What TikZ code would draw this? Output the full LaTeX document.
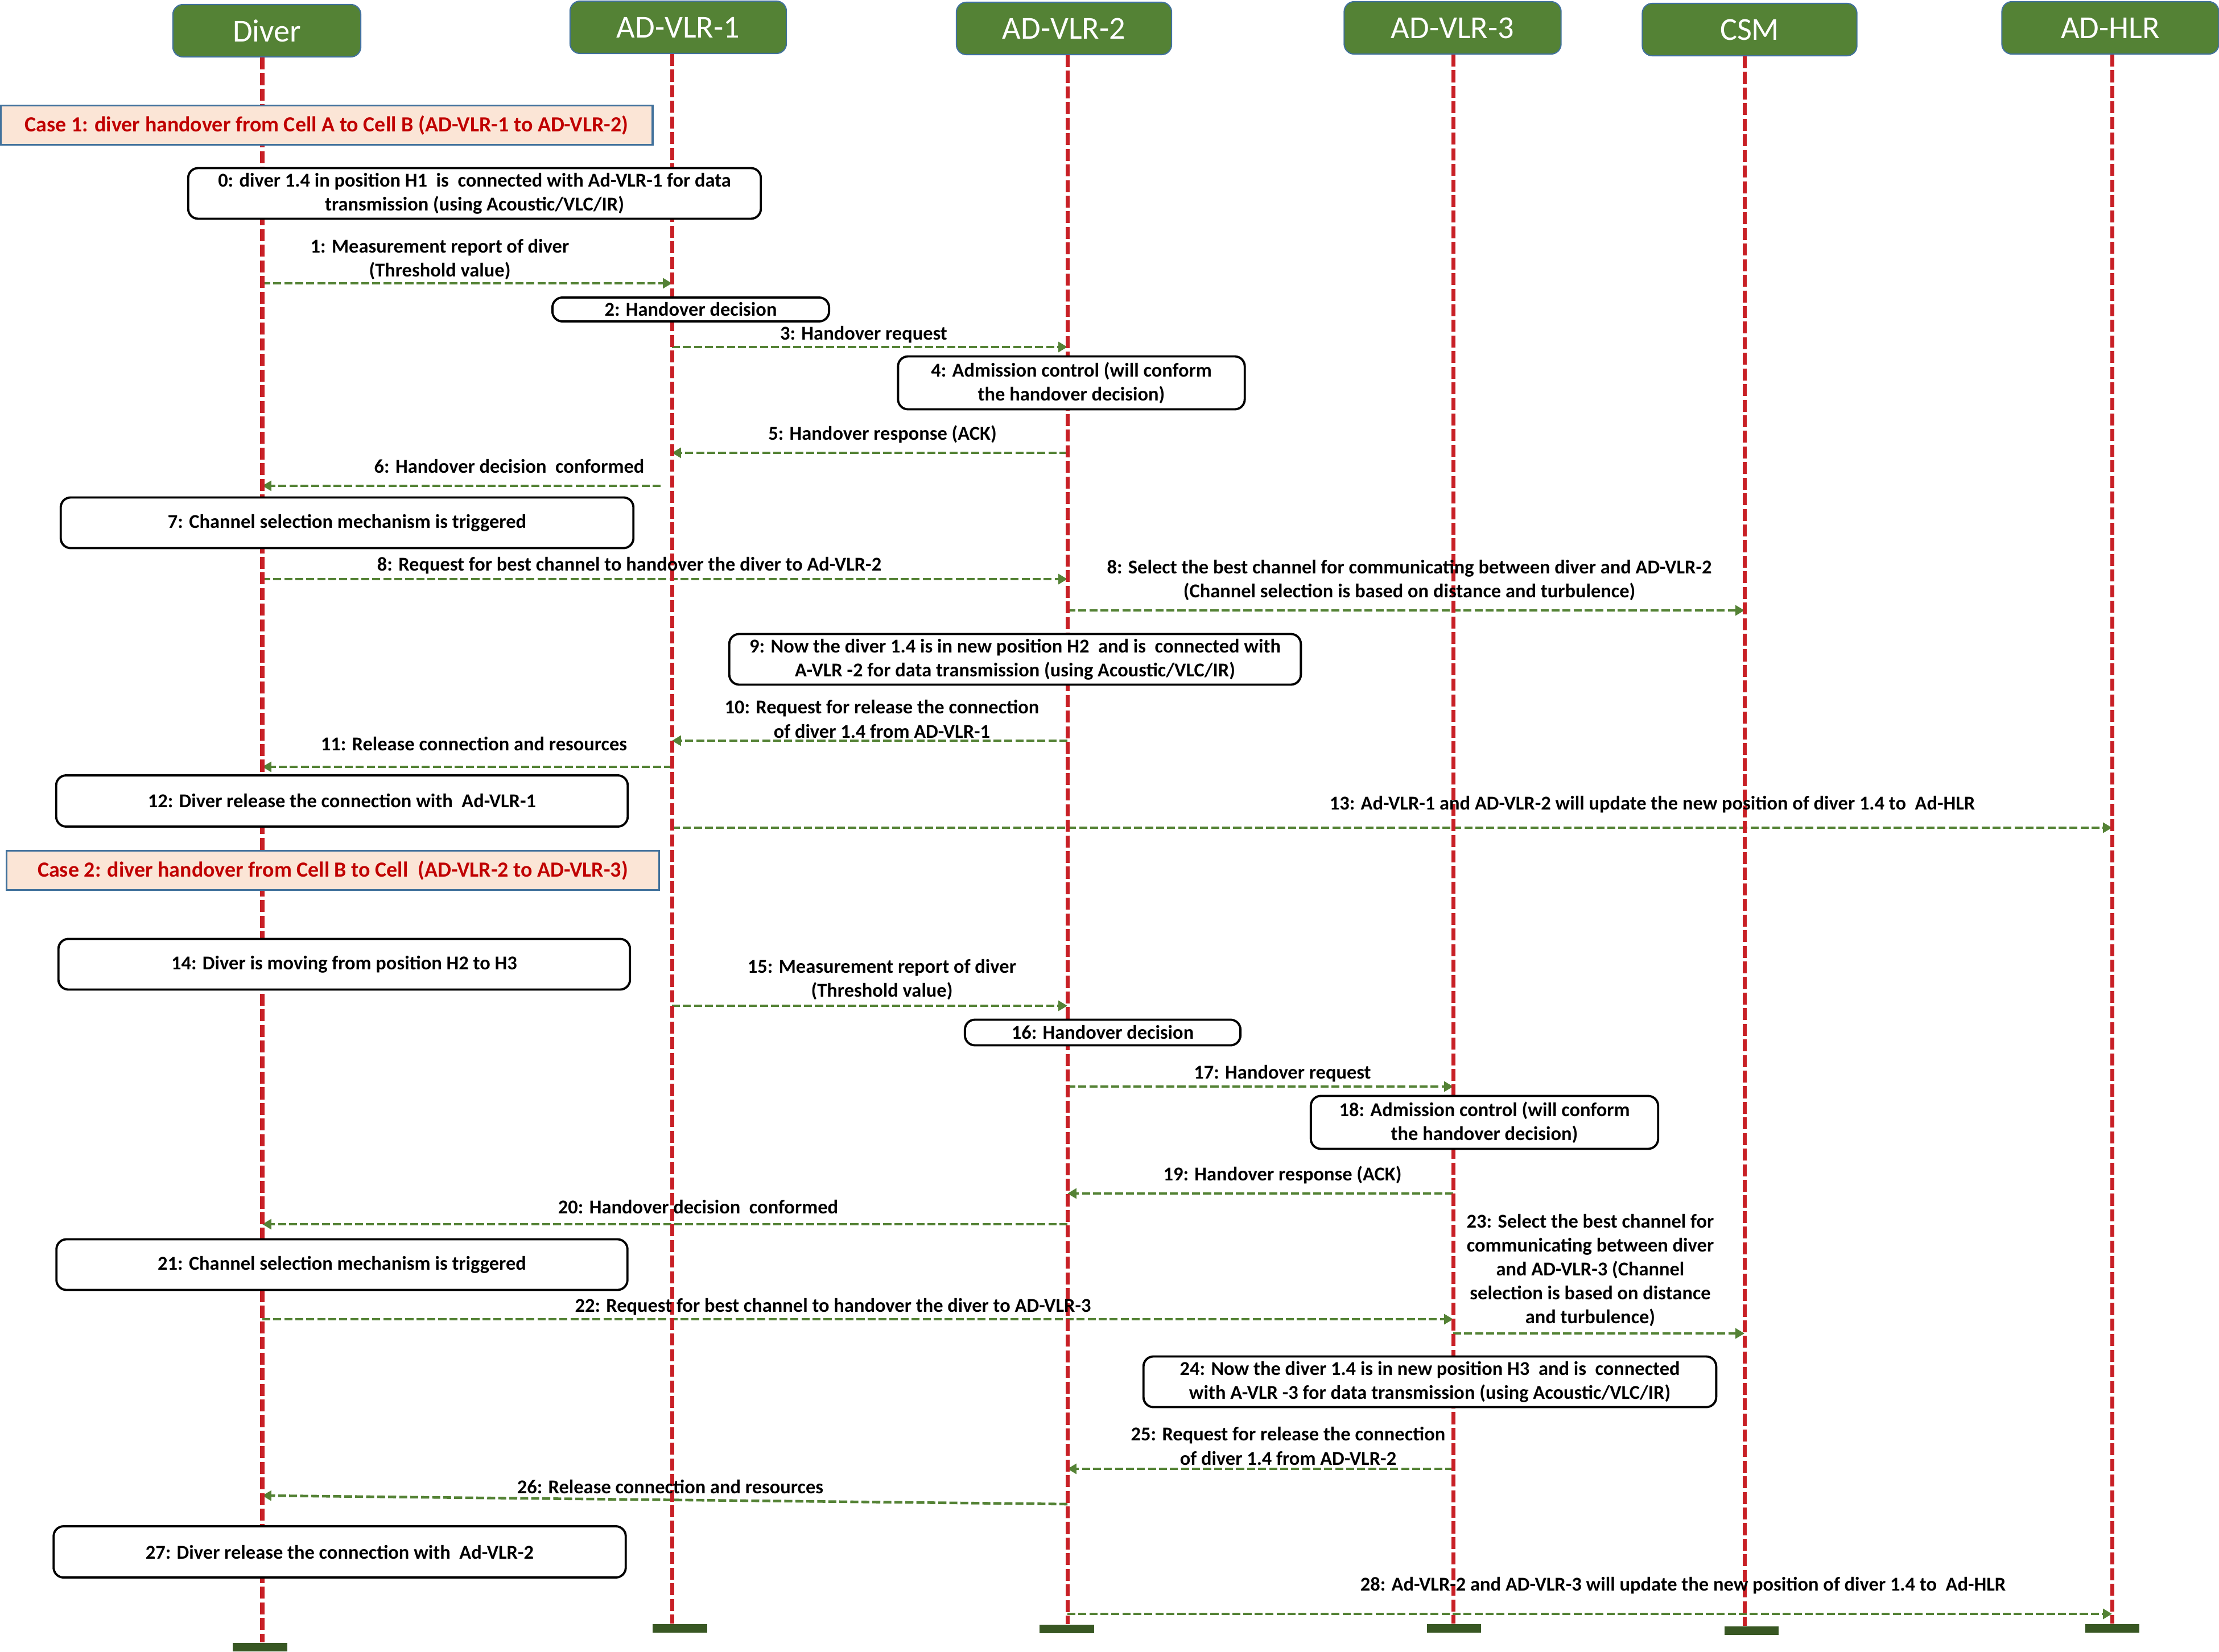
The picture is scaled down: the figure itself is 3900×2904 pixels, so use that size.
\documentclass[tikz,border=0pt]{standalone}
\usepackage{fontspec}
\setmainfont{Carlito}
\usetikzlibrary{arrows.meta}
\usepackage{xcolor}
\definecolor{headgreen}{RGB}{84,130,53}
\definecolor{headblue}{RGB}{65,113,156}
\definecolor{lifered}{RGB}{200,32,38}
\definecolor{msggreen}{RGB}{84,130,53}
\definecolor{casefill}{RGB}{251,229,214}
\definecolor{casetext}{RGB}{192,0,0}
\definecolor{bargreen}{RGB}{56,87,35}

\begin{document}
\begin{tikzpicture}[x=0.01cm,y=-0.01cm,%
		   entity/.style={draw=headblue,line width=0.6pt,fill=headgreen,text=white,rounded corners=5pt,minimum height=0.92cm,font=\fontsize{16}{19}\selectfont},
		   action/.style={draw=black,line width=1.1pt,fill=white,rounded corners=5pt,align=center,inner sep=1pt,font=\bfseries\fontsize{9.8}{12}\selectfont},
		   casebox/.style={draw=headblue,line width=1pt,fill=casefill,text=casetext,minimum height=0.69cm,font=\bfseries\fontsize{10.8}{13}\selectfont},
		   msglabel/.style={align=center,inner sep=0pt,font=\bfseries\fontsize{9.8}{12}\selectfont},
		   message/.style={-{Triangle[length=4.5pt,width=5pt]},line width=1.3pt,msggreen,dash pattern=on 4pt off 1.5pt},
		   lifeline/.style={lifered,line width=2pt,dash pattern=on 6pt off 1.8pt},
		   endbar/.style={fill=bargreen,minimum width=0.95cm,minimum height=0.15cm,inner sep=0pt}]

	\useasboundingbox (0,0) rectangle (3900,2904);

	    \foreach \id/\x/\y/\w/\lx/\bx/\by/\lbl in {%
		    diver/469/54/3.3/461/457/2895/Diver,%
		    vlr1/1192/48/3.8/1181/1195/2862/AD-VLR-1,%
		    vlr2/1870/50/3.78/1876/1875/2863/AD-VLR-2,%
		    vlr3/2553/49/3.81/2554/2555/2862/AD-VLR-3,%
		    csm/3075/52/3.77/3066/3078/2866/CSM,%
		    hlr/3709/49/3.81/3712/3712/2862/AD-HLR%
	       } { \node[entity,minimum width=\w cm] (\id) at (\x,\y) {\lbl};
		   \coordinate (\id-x) at (\lx,0);
		   \node[endbar] (\id-end) at (\bx,\by) {};
	       }

	    \foreach \a/\b/\y in {diver/vlr1/498, vlr1/vlr2/610, vlr2/vlr1/796,%
		    diver/vlr2/1018, vlr2/csm/1073, vlr2/vlr1/1302, vlr1/diver/1348,%
		    vlr1/hlr/1455, vlr1/vlr2/1768, vlr2/vlr3/1910, vlr3/vlr2/2098,%
		    vlr2/diver/2152, diver/vlr3/2319, vlr3/csm/2344, vlr3/vlr2/2582,%
		    vlr2/hlr/2837}
		   \draw[message] (\a-x |- 0,\y) -- (\b-x |- 0,\y);
	    \coordinate (m6) at (1161,854);% starts short of AD-VLR-1
	    \draw[message] (m6) -- (diver-x |- m6);
	    \draw[message] (vlr2-x |- 0,2644) -- (diver-x |- 0,2629);

	    \foreach \id in {diver,vlr1,vlr2,vlr3,csm,hlr}
		   \draw[lifeline] (\id.south -| \id-x) -- (\id-x |- \id-end.north);

	    \node[casebox,minimum width=11.45cm] (case1) at (574,220) {Case 1: diver handover from Cell A to Cell B (AD-VLR-1 to AD-VLR-2)};
	    \node[casebox,minimum width=11.46cm] (case2) at (585,1530) {Case 2: diver handover from Cell B to Cell\ \ (AD-VLR-2 to AD-VLR-3)};

	    \foreach \n/\x/\y/\w/\h/\txt in {%
		    0/834/340/10.06/0.89/{0: diver 1.4 in position H1\ \ is\ \ connected with Ad-VLR-1 for data\\transmission (using Acoustic/VLC/IR)},%
		    2/1214/544/4.86/0.42/{2: Handover decision},%
		    4/1883/673/6.09/0.93/{4: Admission control (will conform\\the handover decision)},%
		    7/610/919/10.06/0.89/{7: Channel selection mechanism is triggered},%
		    9/1784/1159/10.04/0.89/{9: Now the diver 1.4 is in new position H2\ \ and is\ \ connected with\\A-VLR -2 for data transmission (using Acoustic/VLC/IR)},%
		    12/601/1408/10.04/0.9/{12: Diver release the connection with\ \ Ad-VLR-1},%
		    14/605/1695/10.04/0.89/{14: Diver is moving from position H2 to H3},%
		    16/1938/1815/4.84/0.45/{16: Handover decision},%
		    18/2609/1973/6.1/0.93/{18: Admission control (will conform\\the handover decision)},%
		    21/601/2223/10.03/0.89/{21: Channel selection mechanism is triggered},%
		    24/2513/2429/10.06/0.89/{24: Now the diver 1.4 is in new position H3\ \ and is\ \ connected\\with A-VLR -3 for data transmission (using Acoustic/VLC/IR)},%
		    27/597/2728/10.05/0.9/{27: Diver release the connection with\ \ Ad-VLR-2}%
	       } \node[action,minimum width=\w cm,minimum height=\h cm] (b\n) at (\x,\y) {\txt};

	    \foreach \n/\x/\y/\txt in {%
		    1/773/456/{1: Measurement report of diver\\(Threshold value)},%
		    3/1518/588/{3: Handover request},%
		    5/1551/763/{5: Handover response (ACK)},%
		    6/895/820/{6: Handover decision\ \ conformed},%
		    8/1106/994/{8: Request for best channel to handover the diver to Ad-VLR-2},%
		    8b/2477/1020/{8: Select the best channel for communicating between diver and AD-VLR-2\\(Channel selection is based on distance and turbulence)},%
		    10/1550/1264/{10: Request for release the connection\\of diver 1.4 from AD-VLR-1},%
		    11/833/1308/{11: Release connection and resources},%
		    13/2904/1414/{13: Ad-VLR-1 and AD-VLR-2 will update the new position of diver 1.4 to\ \ Ad-HLR},%
		    15/1550/1722/{15: Measurement report of diver\\(Threshold value)},%
		    17/2254/1887/{17: Handover request},%
		    19/2254/2065/{19: Handover response (ACK)},%
		    20/1227/2122/{20: Handover decision\ \ conformed},%
		    22/1464/2297/{22: Request for best channel to handover the diver to AD-VLR-3},%
		    23/2795/2233/{23: Select the best channel for\\communicating between diver\\and AD-VLR-3 (Channel\\selection is based on distance\\and turbulence)},%
		    25/2264/2542/{25: Request for release the connection\\of diver 1.4 from AD-VLR-2},%
		    26/1178/2613/{26: Release connection and resources},%
		    28/2958/2787/{28: Ad-VLR-2 and AD-VLR-3 will update the new position of diver 1.4 to\ \ Ad-HLR}%
	       } \node[msglabel] (l\n) at (\x,\y) {\txt};
	\end{tikzpicture}
\end{document}
